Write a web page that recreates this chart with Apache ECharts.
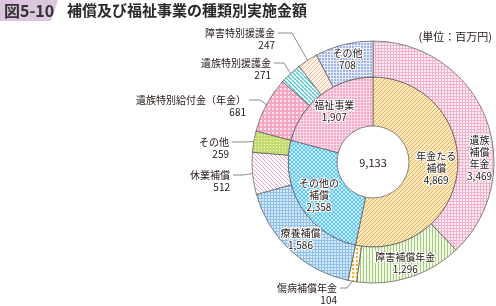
<!DOCTYPE html>
<html><head><meta charset="utf-8">
<script src="https://cdn.jsdelivr.net/npm/echarts@6/dist/echarts.min.js"></script>
<style>html,body{margin:0;padding:0;background:#fff}#c{width:496px;height:306px}</style>
</head><body><div id="c"></div>
<script>
// ---- data ----
const innerNames = ['年金たる補償', 'その他の補償', '福祉事業'];
const innerLabels = ['年金たる\n補償', 'その他の\n補償', '福祉事業'];
const innerValues = [4869, 2358, 1907];
const outerNames = ['遺族補償年金', '障害補償年金', '傷病補償年金', '療養補償', '休業補償', 'その他', '遺族特別給付金（年金）', '遺族特別援護金', '障害特別援護金', 'その他'];
const outerLabels = ['遺族\n補償\n年金', '障害補償年金', '傷病補償年金', '療養補償', '休業補償', 'その他', '遺族特別給付金（年金）', '遺族特別援護金', '障害特別援護金', 'その他'];
const outerValues = [3469, 1296, 104, 1586, 512, 259, 681, 271, 247, 708];
const totalValue = 9133;
const titleNo = '図5-10';
const titleText = '補償及び福祉事業の種類別実施金額';
const unitText = '(単位：百万円)';

// ---- style / layout ----
const FONT = '"Noto Sans CJK JP", "Noto Sans", sans-serif';
const CX = 373, CY = 162, R_HOLE = 36, R_MID = 85, R_OUT = 121;
const outsideIdx = [2, 4, 5, 6, 7, 8];
// label anchor (right edge, first-line centre) and bend length
const outsideAnchor = {
  8: [275, 33, 14], 7: [271, 63, 10], 6: [246, 100, 11],
  5: [229, 142, 11], 4: [230, 175, 10], 2: [337, 288, 7]
};

function pat(type, bg, fg, s, w) {
  const c = document.createElement('canvas');
  c.width = c.height = s;
  const g = c.getContext('2d');
  g.fillStyle = bg; g.fillRect(0, 0, s, s);
  g.fillStyle = fg; g.strokeStyle = fg; g.lineWidth = w || 1;
  if (type === 'grid') { g.fillRect(0, 0, s, 1); g.fillRect(0, 0, 1, s); }
  if (type === 'vert') { g.fillRect(0, 0, 1, s); }
  if (type === 'dots') { g.fillRect(0, 0, w || 1, w || 1); }
  if (type === 'diag' || type === 'cross') {
    g.beginPath();
    for (const k of [-s, 0, s]) { g.moveTo(k, s); g.lineTo(k + s, 0); }
    g.stroke();
  }
  if (type === 'bdiag' || type === 'cross') {
    g.beginPath();
    for (const k of [-s, 0, s]) { g.moveTo(k, 0); g.lineTo(k + s, s); }
    g.stroke();
  }
  return { image: c, repeat: 'repeat' };
}

const innerFills = [
  pat('diag', '#fde8bd', '#ebb25a', 4, 1),
  pat('cross', '#5ec6ef', '#c6ebfa', 4, 1),
  pat('grid', '#f5a6c9', '#fcdbe9', 3)
];
const outerFills = [
  pat('grid', '#fdf0f5', '#f4b0cd', 3),
  pat('vert', '#f2f8e8', '#a3cc7b', 3),
  pat('dots', '#fffbe8', '#f2b13a', 4, 2),
  pat('grid', '#d6e9fb', '#90c1ec', 3),
  pat('bdiag', '#ffffff', '#e8a2cb', 4, 1),
  pat('dots', '#c4db6f', '#f3f9dc', 3, 1),
  pat('dots', '#f5a7c4', '#fde6ef', 4, 2),
  pat('bdiag', '#ffffff', '#55c4d4', 4, 1.4),
  pat('diag', '#fff3ea', '#f6bd98', 4, 1),
  pat('grid', '#a0b3e2', '#e6ecf9', 3)
];

const fmt = v => v.toLocaleString('en-US');
const baseText = { fontFamily: FONT, fontSize: 10, lineHeight: 12, color: '#231815' };
const insideText = Object.assign({}, baseText, { textBorderColor: '#fff', textBorderWidth: 2 });

const outerSum = outerValues.reduce((a, b) => a + b, 0);
const midAngle = [];
{ let acc = 0; for (const v of outerValues) { midAngle.push((acc + v / 2) / outerSum * 2 * Math.PI); acc += v; } }

const innerData = innerValues.map((v, i) => ({
  value: v, name: innerNames[i],
  itemStyle: { color: innerFills[i] },
  label: Object.assign({ position: 'inside', formatter: innerLabels[i] + '\n' + fmt(v) }, insideText)
}));
const outerData = outerValues.map((v, i) => {
  const outside = outsideIdx.includes(i);
  return {
    value: v, name: outerNames[i],
    itemStyle: { color: outerFills[i] },
    label: Object.assign({ position: outside ? 'outside' : 'inside', formatter: outerLabels[i] + '\n' + fmt(v) }, outside ? baseText : insideText),
    labelLine: { show: outside, lineStyle: { color: '#6f6f6f', width: 0.8 } }
  };
});

const chart = echarts.init(document.getElementById('c'), null, { renderer: 'canvas' });
chart.setOption({
  animation: false,
  backgroundColor: '#fff',
  graphic: [
    { type: 'polygon', shape: { points: [[0, 0], [58, 0], [51, 21], [0, 21]] }, style: { fill: '#dcc6de' } },
    { type: 'text', left: 4, top: 3, style: { text: titleNo, font: 'bold 16px ' + FONT, fill: '#333' } },
    { type: 'text', left: 67, top: 3, style: { text: titleText, font: 'bold 15px ' + FONT, fill: '#2a2a2a' } },
    { type: 'text', right: 4, top: 31, style: { text: unitText, font: '11px ' + FONT, fill: '#231815' } },
    { type: 'text', x: CX, y: CY + 1, style: { text: fmt(totalValue), font: '11px ' + FONT, fill: '#231815', align: 'center', verticalAlign: 'middle' } }
  ],
  series: [
    {
      type: 'pie', radius: [R_HOLE, R_MID], center: [CX, CY], startAngle: 90, clockwise: true,
      avoidLabelOverlap: false, silent: true,
      itemStyle: { borderColor: '#555', borderWidth: 0.7 },
      data: innerData
    },
    {
      type: 'pie', radius: [R_MID, R_OUT], center: [CX, CY], startAngle: 90, clockwise: true,
      avoidLabelOverlap: false, silent: true,
      itemStyle: { borderColor: '#555', borderWidth: 0.7 },
      labelLine: { show: true },
      data: outerData,
      labelLayout: function (p) {
        const i = p.dataIndex;
        if (i === 0) return { dx: 8, dy: 35 };
        const a = outsideAnchor[i];
        if (!a) return {};
        const ang = midAngle[i];
        const edge = [CX + R_OUT * Math.sin(ang), CY - R_OUT * Math.cos(ang)];
        const lx = a[0] + 3;
        return {
          x: a[0], y: a[1] - 6, align: 'right', verticalAlign: 'top',
          labelLinePoints: [edge, [lx + a[2], a[1]], [lx, a[1]]]
        };
      }
    }
  ]
});
</script></body></html>
